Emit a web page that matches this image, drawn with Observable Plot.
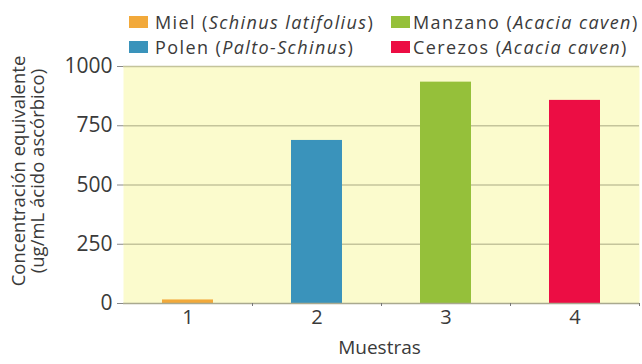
<!DOCTYPE html>
<html>
<head>
<meta charset="utf-8">
<script src="https://cdn.jsdelivr.net/npm/d3@7"></script>
<script src="https://cdn.jsdelivr.net/npm/@observablehq/plot@0.6"></script>
<style>
  html, body { margin: 0; padding: 0; background: #fff; }
  #wrap { position: relative; width: 642px; height: 364px; font-family: "Open Sans", Lato, sans-serif; color: #3a3a3a; }
  #legend { position: absolute; left: 0; top: 0; width: 642px; height: 60px; }
  .item { position: absolute; display: flex; align-items: center; font-size: 18px; letter-spacing: 1.4px; white-space: nowrap; line-height: 1; }
  .sw { width: 19px; height: 12px; }
  .item i { font-style: italic; }
</style>
</head>
<body>
<div id="wrap">
  <div id="chart"></div>
  <div id="legend"></div>
</div>
<script>
// ---- data ----
const samples = ["1", "2", "3", "4"];
const values = [15, 688, 934, 857];
const seriesNames = ["Miel", "Polen", "Manzano", "Cerezos"];
const speciesNames = ["Schinus latifolius", "Palto-Schinus", "Acacia caven", "Acacia caven"];
const seriesColors = ["#f2a93a", "#3a93bb", "#95c03a", "#ec0d44"];
const yTicks = [0, 250, 500, 750, 1000];
const yTitle = "Concentración equivalente\n(ug/mL ácido ascórbico)";
const xTitle = "Muestras";

const data = samples.map((s, i) => ({sample: s, value: values[i], name: seriesNames[i]}));

const W = 642, H = 364, ML = 123, MR = 3, MT = 66, MB = 61;
const step = (W - ML - MR) / samples.length;

const chart = Plot.plot({
  width: W, height: H,
  marginLeft: ML, marginRight: MR, marginTop: MT, marginBottom: MB,
  x: {domain: samples, paddingInner: 0.605, paddingOuter: 0.3, label: null},
  y: {domain: [0, 1000], label: null},
  color: {domain: seriesNames, range: seriesColors},
  style: {fontFamily: "'Open Sans', Lato, sans-serif", fontSize: "20px", color: "#3a3a3a", background: "white"},
  marks: [
    Plot.frame({fill: "#fbfbcd", stroke: null}),
    Plot.gridY(yTicks.filter(d => d > 0), {stroke: "#c4c49b", strokeOpacity: 1, strokeWidth: 1.5}),
    Plot.barY(data, {x: "sample", y: "value", fill: "name"}),
    Plot.ruleY([0], {stroke: "#a9a98f", strokeWidth: 1.5}),
    Plot.axisY({ticks: yTicks, tickFormat: d => String(d), tickSize: 6, tickPadding: 5, label: null, stroke: "#888", fontSize: 21}),
    Plot.axisX({tickSize: 0, tickPadding: 6, label: null, fontSize: 20}),
    Plot.axisX({tickSize: 3, text: null, dx: step / 2, label: null, stroke: "#777"}),
    Plot.text([yTitle], {frameAnchor: "left", textAnchor: "middle", dx: -95, dy: -14, rotate: -90, text: d => d, lineHeight: 1.05, fontSize: 18.5, fill: "#3a3a3a"}),
    Plot.text([xTitle], {frameAnchor: "bottom", dx: -2, dy: 50, text: d => d, fontSize: 19, fill: "#3a3a3a"})
  ]
});
document.getElementById("chart").appendChild(chart);

// ---- legend ----
const legendPos = [
  {left: 129, top: 22}, {left: 129, top: 47},
  {left: 391, top: 22}, {left: 391, top: 47}
];
const legend = document.getElementById("legend");
seriesNames.forEach((n, i) => {
  const el = document.createElement("div");
  el.className = "item";
  el.style.left = legendPos[i].left + "px";
  el.style.top = (legendPos[i].top - 10) + "px";
  el.style.height = "20px";
  el.innerHTML = `<span class="sw" style="background:${seriesColors[i]}; margin-right:${i < 2 ? 7 : 3}px"></span><span>${n} (<i>${speciesNames[i]}</i>)</span>`;
  legend.appendChild(el);
});
</script>
</body>
</html>
